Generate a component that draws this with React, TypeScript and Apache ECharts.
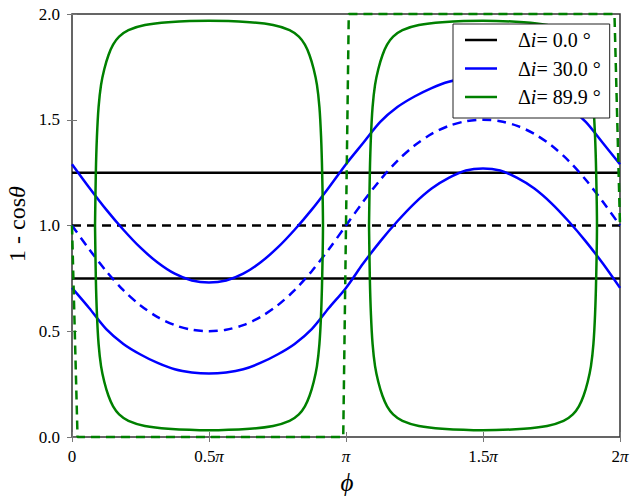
import React, { useEffect, useRef } from 'react';
import * as echarts from 'echarts';

// phi in units of pi
const phiGrid = [0, 0.0625, 0.125, 0.1875, 0.25, 0.3125, 0.375, 0.4375, 0.5, 0.5625, 0.625, 0.6875, 0.75, 0.8125, 0.875, 0.9375, 1, 1.0625, 1.125, 1.1875, 1.25, 1.3125, 1.375, 1.4375, 1.5, 1.5625, 1.625, 1.6875, 1.75, 1.8125, 1.875, 1.9375, 2];

// Δi = 0.0°
const blackSolidLevels = [1.25, 0.75];
const blackDashedLevel = 1.0;

// Δi = 30.0°
const blueUpper = [1.29, 1.18, 1.075, 0.98, 0.895, 0.825, 0.772, 0.74, 0.73, 0.74, 0.772, 0.825, 0.895, 0.98, 1.075, 1.18, 1.29, 1.39, 1.49, 1.56, 1.61, 1.65, 1.68, 1.695, 1.70, 1.695, 1.68, 1.65, 1.61, 1.56, 1.49, 1.39, 1.29];
const blueLower = [0.705, 0.61, 0.51, 0.44, 0.39, 0.35, 0.32, 0.305, 0.30, 0.305, 0.32, 0.35, 0.39, 0.44, 0.51, 0.61, 0.705, 0.82, 0.925, 1.02, 1.105, 1.175, 1.225, 1.26, 1.27, 1.26, 1.225, 1.175, 1.105, 1.02, 0.925, 0.82, 0.705];
const blueDashed = [1.0, 0.888, 0.784, 0.694, 0.622, 0.567, 0.529, 0.507, 0.5, 0.507, 0.529, 0.567, 0.622, 0.694, 0.784, 0.888, 1.0, 1.112, 1.216, 1.306, 1.378, 1.433, 1.471, 1.493, 1.5, 1.493, 1.471, 1.433, 1.378, 1.306, 1.216, 1.112, 1.0];

// Δi = 89.9° : two closed loops (phi/pi, value)
const greenLoopLeftPhi = [0.084, 0.087, 0.091, 0.097, 0.106, 0.118, 0.133, 0.150, 0.172, 0.206, 0.266, 0.351, 0.5, 0.649, 0.734, 0.794, 0.828, 0.850, 0.867, 0.882, 0.894, 0.903, 0.909, 0.913, 0.916, 0.913, 0.909, 0.903, 0.894, 0.882, 0.867, 0.850, 0.828, 0.794, 0.734, 0.649, 0.5, 0.351, 0.266, 0.206, 0.172, 0.150, 0.133, 0.118, 0.106, 0.097, 0.091, 0.087, 0.084];
const greenLoopLeftVal = [1.0, 1.25, 1.42, 1.56, 1.665, 1.74, 1.805, 1.855, 1.893, 1.924, 1.948, 1.961, 1.968, 1.961, 1.948, 1.924, 1.893, 1.855, 1.805, 1.74, 1.665, 1.56, 1.42, 1.25, 1.0, 0.75, 0.58, 0.44, 0.335, 0.26, 0.195, 0.145, 0.107, 0.076, 0.052, 0.039, 0.032, 0.039, 0.052, 0.076, 0.107, 0.145, 0.195, 0.26, 0.335, 0.44, 0.58, 0.75, 1.0];
const greenLoopRightPhi = [1.084, 1.087, 1.091, 1.097, 1.106, 1.118, 1.133, 1.150, 1.172, 1.206, 1.266, 1.351, 1.5, 1.649, 1.734, 1.794, 1.828, 1.850, 1.867, 1.882, 1.894, 1.903, 1.909, 1.913, 1.916, 1.913, 1.909, 1.903, 1.894, 1.882, 1.867, 1.850, 1.828, 1.794, 1.734, 1.649, 1.5, 1.351, 1.266, 1.206, 1.172, 1.150, 1.133, 1.118, 1.106, 1.097, 1.091, 1.087, 1.084];
const greenLoopRightVal = [1.0, 1.25, 1.42, 1.56, 1.665, 1.74, 1.805, 1.855, 1.893, 1.924, 1.948, 1.961, 1.968, 1.961, 1.948, 1.924, 1.893, 1.855, 1.805, 1.74, 1.665, 1.56, 1.42, 1.25, 1.0, 0.75, 0.58, 0.44, 0.335, 0.26, 0.195, 0.145, 0.107, 0.076, 0.052, 0.039, 0.032, 0.039, 0.052, 0.076, 0.107, 0.145, 0.195, 0.26, 0.335, 0.44, 0.58, 0.75, 1.0];
const greenDashedPhi = [0, 0.0202, 0.9899, 1.0101, 1.9798, 2];
const greenDashedVal = [1.0, 0.0, 0.0, 2.0, 2.0, 1.0];

const seriesNames = ['Δi= 0.0 °', 'Δi= 30.0 °', 'Δi= 89.9 °'];
const xTickValues = [0, 0.5, 1, 1.5, 2];
const xTickLabels = ['0', '0.5π', 'π', '1.5π', '2π'];
const yTickValues = [0, 0.5, 1, 1.5, 2];
const yTickLabels = ['0.0', '0.5', '1.0', '1.5', '2.0'];

const SERIF = 'Liberation Serif';
const BLACK = '#000000';
const BLUE = '#0000ff';
const GREEN = '#008000';
const DASH = [9, 6];
const LW = 2.5;

function pairs(xs: number[], ys: number[]) {
  return xs.map((x, i) => [x, ys[i]]);
}

function lineSeries(name: string, data: number[][], color: string, dashed: boolean, extra: any = {}) {
  return {
    type: 'line',
    name,
    data,
    xAxisIndex: 0,
    yAxisIndex: 0,
    showSymbol: false,
    symbol: 'none',
    silent: true,
    emphasis: { disabled: true },
    itemStyle: { color },
    lineStyle: { color, width: LW, type: dashed ? DASH : 'solid' },
    ...extra,
  };
}

export default function App() {
  const ref = useRef<HTMLDivElement>(null);
  useEffect(() => {
    const chart = echarts.init(ref.current!, null, { renderer: 'svg' });
    const tick = { inside: true, length: 5, lineStyle: { color: '#777', width: 1 } };
    const option: any = {
      animation: false,
      backgroundColor: '#ffffff',
      textStyle: { fontFamily: SERIF },
      grid: {
        left: 72, right: 13, top: 14, bottom: 59,
        show: true, borderColor: '#333', borderWidth: 1.5, backgroundColor: 'transparent',
      },
      xAxis: [
        {
          type: 'value', min: 0, max: 2, interval: 0.5, position: 'bottom',
          axisLine: { show: false }, splitLine: { show: false }, axisTick: tick,
          axisLabel: {
            margin: 11, fontFamily: SERIF, fontSize: 17, color: '#000',
            formatter: (v: number) => {
              const i = xTickValues.findIndex((t) => Math.abs(t - v) < 1e-9);
              const s = i >= 0 ? xTickLabels[i] : '';
              return s.replace('π', '{p|π}');
            },
            rich: { p: { fontFamily: SERIF, fontSize: 17, fontStyle: 'italic', color: '#000' } },
          },
        },
        {
          type: 'value', min: 0, max: 2, interval: 0.5, position: 'top',
          axisLine: { show: false }, splitLine: { show: false }, axisTick: tick,
          axisLabel: { show: false },
        },
      ],
      yAxis: [
        {
          type: 'value', min: 0, max: 2, interval: 0.5, position: 'left',
          axisLine: { show: false }, splitLine: { show: false }, axisTick: tick,
          axisLabel: {
            margin: 12, fontFamily: SERIF, fontSize: 17, color: '#000',
            formatter: (v: number) => {
              const i = yTickValues.findIndex((t) => Math.abs(t - v) < 1e-9);
              return i >= 0 ? yTickLabels[i] : '';
            },
          },
        },
        {
          type: 'value', min: 0, max: 2, interval: 0.5, position: 'right',
          axisLine: { show: false }, splitLine: { show: false }, axisTick: tick,
          axisLabel: { show: false },
        },
      ],
      legend: {
        data: seriesNames,
        orient: 'vertical',
        left: 453, top: 24,
        icon: 'rect',
        itemWidth: 32, itemHeight: 2.5, itemGap: 8.5,
        padding: [6, 9, 11, 12],
        backgroundColor: '#ffffff', borderColor: '#222', borderWidth: 1, borderRadius: 0,
        selectedMode: false,
        formatter: (name: string) => '{sp| }{g|Δ}{i|i}{g|' + name.slice(2) + '}',
        textStyle: {
          fontFamily: SERIF, fontSize: 20, color: '#000',
          rich: {
            sp: { width: 16, lineHeight: 20 },
            g: { fontFamily: SERIF, fontSize: 20, color: '#000', lineHeight: 20 },
            i: { fontFamily: SERIF, fontSize: 20, fontStyle: 'italic', color: '#000', lineHeight: 20 },
          },
        },
      },
      graphic: [
        {
          type: 'text', x: 17, y: 224, rotation: Math.PI / 2, silent: true,
          style: {
            text: '1 - cos{t|θ}', align: 'center', verticalAlign: 'middle',
            fontFamily: SERIF, fontSize: 24, fill: '#000',
            rich: { t: { fontFamily: SERIF, fontSize: 24, fontStyle: 'italic', fill: '#000' } },
          },
        },
        {
          type: 'text', x: 347, y: 482, silent: true,
          style: {
            text: 'ϕ', align: 'center', verticalAlign: 'middle',
            fontFamily: SERIF, fontSize: 25, fontStyle: 'italic', fill: '#000',
          },
        },
      ],
      series: [
        lineSeries(seriesNames[0], [[0, blackSolidLevels[0]], [2, blackSolidLevels[0]]], BLACK, false),
        lineSeries(seriesNames[0], [[0, blackSolidLevels[1]], [2, blackSolidLevels[1]]], BLACK, false),
        lineSeries(seriesNames[0], [[0, blackDashedLevel], [2, blackDashedLevel]], BLACK, true),
        lineSeries(seriesNames[1], pairs(phiGrid, blueUpper), BLUE, false, { smooth: 0.3 }),
        lineSeries(seriesNames[1], pairs(phiGrid, blueLower), BLUE, false, { smooth: 0.3 }),
        lineSeries(seriesNames[1], pairs(phiGrid, blueDashed), BLUE, true, { smooth: 0.3 }),
        lineSeries(seriesNames[2], pairs(greenLoopLeftPhi, greenLoopLeftVal), GREEN, false, { smooth: 0.3 }),
        lineSeries(seriesNames[2], pairs(greenLoopRightPhi, greenLoopRightVal), GREEN, false, { smooth: 0.3 }),
        lineSeries(seriesNames[2], pairs(greenDashedPhi, greenDashedVal), GREEN, true, { clip: false }),
      ],
    };
    chart.setOption(option);
    return () => chart.dispose();
  }, []);
  return (
    <div
      ref={ref}
      style={{ position: 'fixed', left: 0, top: 0, width: 633, height: 496, background: '#fff' }}
    />
  );
}
